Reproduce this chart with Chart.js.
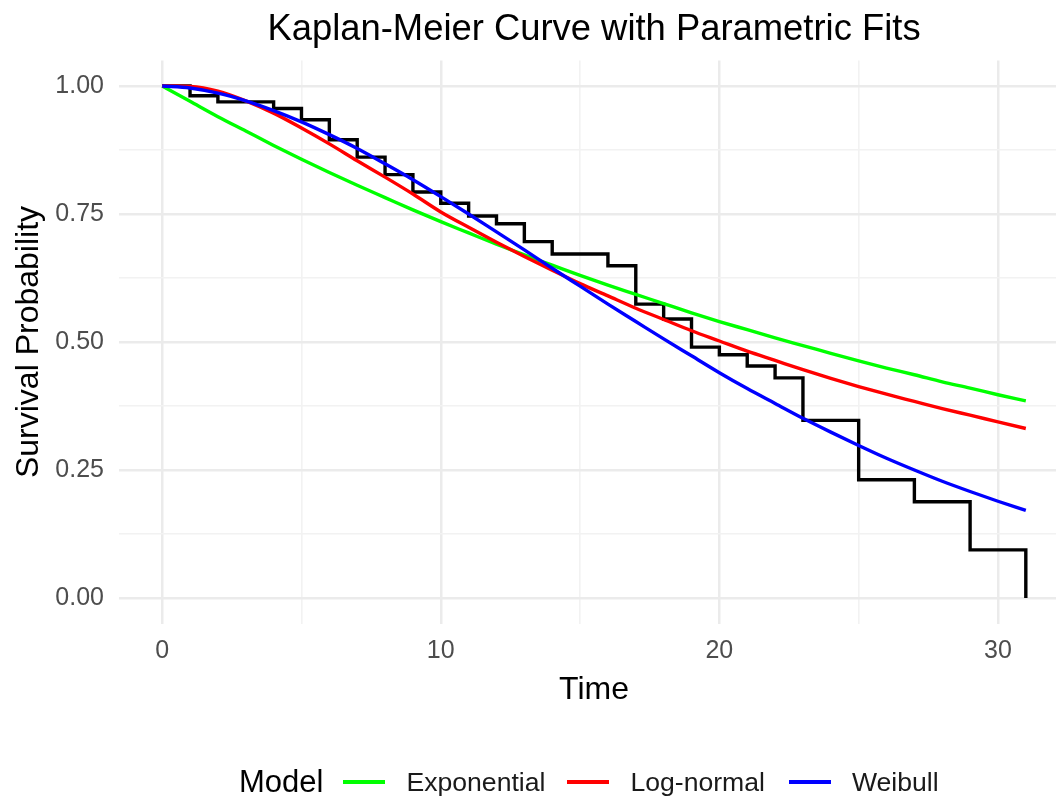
<!DOCTYPE html>
<html>
<head>
<meta charset="utf-8">
<script src="https://cdn.jsdelivr.net/npm/chart.js@4.4.1/dist/chart.umd.min.js"></script>
<style>
html,body{margin:0;padding:0;background:#fff;overflow:hidden;width:1056px;height:798px;}
#wrap{position:relative;width:1056px;height:798px;overflow:hidden;font-family:"Liberation Sans",Arial,sans-serif;background:#fff;}
#c{position:absolute;left:0;top:0;}
#title{position:absolute;top:8px;left:594px;transform:translateX(-50%);white-space:nowrap;font-size:36.4px;line-height:40px;color:#000;}
#legend{position:absolute;left:239px;top:764px;height:36px;display:flex;align-items:center;white-space:nowrap;}
#legend .ttl{font-size:31px;color:#000;margin-right:20px;}
#legend .key{width:42px;height:4px;margin-right:21px;}
#legend .lab{font-size:26.6px;color:#1a1a1a;}
</style>
</head>
<body>
<div id="wrap">
  <canvas id="c" width="1069" height="798"></canvas>
  <div id="title">Kaplan-Meier Curve with Parametric Fits</div>
  <div id="legend"></div>
</div>
<script>
// ---- data ----
const kmTime = [0, 1, 2, 4, 5, 6, 7, 8, 9, 10, 11, 12, 13, 14, 16, 17, 18, 19, 20, 21, 22, 23, 25, 27, 29, 31];
const kmSurv = [1.000, 0.981, 0.969, 0.956, 0.934, 0.895, 0.861, 0.827, 0.793, 0.771, 0.746, 0.731, 0.696, 0.672, 0.649, 0.574, 0.545, 0.490, 0.475, 0.453, 0.430, 0.347, 0.231, 0.188, 0.094, 0.000];

const fitTime = [0,1,2,3,4,5,6,7,8,9,10,11,12,13,14,15,16,17,18,19,20,21,22,23,24,25,26,27,28,29,30,31];
const expSurv = [1.000,0.970,0.940,0.912,0.884,0.857,0.831,0.806,0.782,0.758,0.735,0.713,0.691,0.670,0.650,0.630,0.611,0.593,0.575,0.557,0.540,0.524,0.508,0.493,0.478,0.463,0.449,0.436,0.422,0.410,0.397,0.385];
const lnormSurv = [1.000,0.999,0.990,0.971,0.947,0.918,0.887,0.854,0.822,0.789,0.754,0.724,0.695,0.667,0.640,0.614,0.590,0.566,0.544,0.522,0.502,0.482,0.464,0.446,0.429,0.413,0.398,0.384,0.370,0.357,0.344,0.331];
const weibSurv = [1.000,0.996,0.986,0.971,0.952,0.930,0.905,0.878,0.848,0.817,0.784,0.750,0.715,0.680,0.644,0.609,0.574,0.540,0.506,0.473,0.440,0.409,0.380,0.351,0.324,0.298,0.273,0.250,0.228,0.208,0.189,0.171];

const modelNames = ["Exponential", "Log-normal", "Weibull"];
const modelColors = ["#00FF00", "#FF0000", "#0000FF"];

const xTickValues = [0, 5, 10, 15, 20, 25, 30];
const xTickLabels = ["0", "", "10", "", "20", "", "30"];
const yTickValues = [0, 0.125, 0.25, 0.375, 0.5, 0.625, 0.75, 0.875, 1];
const yTickLabels = ["0.00", "", "0.25", "", "0.50", "", "0.75", "", "1.00"];

// ---- legend (HTML) ----
const legend = document.getElementById('legend');
legend.innerHTML = '<span class="ttl">Model</span>' + modelNames.map((n, i) =>
  '<span class="key" style="background:' + modelColors[i] + '"></span><span class="lab" style="margin-right:' + (i === 0 ? 22 : 24) + 'px">' + n + '</span>'
).join('');

const pts = (xs, ys) => xs.map((x, i) => ({x: x, y: ys[i]}));
const FONT = "'Liberation Sans', Arial, sans-serif";

const majorGrid = '#ebebeb', minorGrid = '#f2f2f2';

new Chart(document.getElementById('c'), {
  type: 'line',
  data: {
    datasets: [
      {label: 'KM', data: pts(kmTime, kmSurv), borderColor: '#000000', borderWidth: 3.4, stepped: true, pointRadius: 0, order: 4},
      {label: modelNames[0], data: pts(fitTime, expSurv), borderColor: modelColors[0], borderWidth: 3.4, pointRadius: 0, cubicInterpolationMode: 'monotone', order: 3},
      {label: modelNames[1], data: pts(fitTime, lnormSurv), borderColor: modelColors[1], borderWidth: 3.4, pointRadius: 0, cubicInterpolationMode: 'monotone', order: 2},
      {label: modelNames[2], data: pts(fitTime, weibSurv), borderColor: modelColors[2], borderWidth: 3.4, pointRadius: 0, cubicInterpolationMode: 'monotone', order: 1}
    ]
  },
  options: {
    responsive: false,
    animation: false,
    layout: {padding: {top: 60.4, left: 0, right: 0, bottom: 74.4}},
    plugins: {legend: {display: false}, title: {display: false}, tooltip: {enabled: false}},
    scales: {
      x: {
        type: 'linear', min: -1.55, max: 32.55,
        afterBuildTicks: s => { s.ticks = xTickValues.map(v => ({value: v})); },
        afterFit: s => { s.height = 100; },
        ticks: {
          autoSkip: false, maxRotation: 0, padding: 13,
          color: '#4d4d4d', font: {family: FONT, size: 25},
          callback: (v, i) => xTickLabels[i]
        },
        grid: {
          drawTicks: false,
          color: c => (c.tick && c.tick.value % 10 === 0) ? majorGrid : minorGrid,
          lineWidth: c => (c.tick && c.tick.value % 10 === 0) ? 2.5 : 1.6
        },
        border: {display: false},
        title: {display: true, text: 'Time', color: '#000', font: {family: FONT, size: 32}, padding: {top: 0, bottom: 14.4}}
      },
      y: {
        type: 'linear', min: -0.05, max: 1.05,
        afterBuildTicks: s => { s.ticks = yTickValues.map(v => ({value: v})); },
        afterFit: s => { s.width = 119; },
        ticks: {
          autoSkip: false, padding: 15,
          color: '#4d4d4d', font: {family: FONT, size: 25},
          callback: (v, i) => yTickLabels[i]
        },
        grid: {
          drawTicks: false,
          color: c => (c.index % 2 === 0) ? majorGrid : minorGrid,
          lineWidth: c => (c.index % 2 === 0) ? 2.5 : 1.6
        },
        border: {display: false},
        title: {display: true, text: 'Survival Probability', color: '#000', font: {family: FONT, size: 32}, padding: {top: 10, bottom: 0}}
      }
    }
  }
});
</script>
</body>
</html>
